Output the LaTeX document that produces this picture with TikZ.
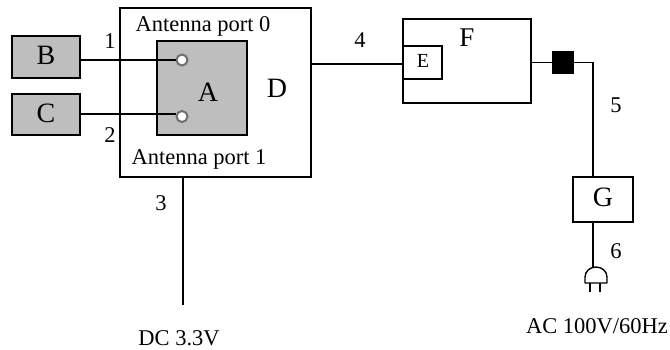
\documentclass[tikz,border=0pt]{standalone}
\usepackage{fontspec}
\setmainfont{Liberation Serif}
\usetikzlibrary{arrows.meta,positioning,calc}
\definecolor{BoxGray}{HTML}{BEBEBE}
\definecolor{PortGray}{HTML}{6E6E6E}
\tikzset{
  box/.style={draw=black,line width=1.3pt,inner sep=0pt,fill=white},
  grayBox/.style={box,fill=BoxGray},
  wire/.style={draw=black,line width=1.4pt},
  lbl/.style={inner sep=0pt,font=\fontsize{22.5}{24}\selectfont},
  bigLbl/.style={inner sep=0pt,font=\fontsize{28}{30}\selectfont},
  portDot/.style={circle,draw=PortGray,line width=2pt,fill=white,minimum size=11pt,inner sep=0pt},
}
\begin{document}
\begin{tikzpicture}[x=1pt,y=-1pt]
  \useasboundingbox (0,0) rectangle (670,349);
  % main boxes
  \node[box,minimum width=191pt,minimum height=169pt] (boxD) at (215.5,92.5) {};
  \node[grayBox,minimum width=90pt,minimum height=94pt] (boxA) at (202,88) {};
  \node[grayBox,minimum width=68pt,minimum height=42pt] (boxB) at (46,57) {};
  \node[grayBox,minimum width=68pt,minimum height=41pt] (boxC) at (46,114.5) {};
  \node[box,minimum width=128pt,minimum height=84pt] (boxF) at (467,61) {};
  \node[box,minimum width=39pt,minimum height=33pt] (boxE) at (422.5,62.5) {};
  \node[box,minimum width=60pt,minimum height=45pt] (boxG) at (603,199.5) {};
  \node[fill=black,minimum width=22pt,minimum height=23pt,inner sep=0pt] (filter) at (563,62.5) {};
  \node[portDot] (port0) at (182,60) {};
  \node[portDot] (port1) at (182,116.5) {};
  % free ends
  \coordinate (dcEnd) at (183,305);
  \coordinate (plugTop) at (593,267);
  \coordinate (bendG) at (593,62.5);
  % wires
  \draw[wire] (boxB.east |- port0) -- (port0);
  \draw[wire] (boxC.east |- 0,114) -- (port1.west |- 0,114);
  \draw[wire] (boxD.east |- 0,64) -- (boxE.west |- 0,64);
  \draw[wire] (boxF.east |- filter) -- (filter);
  \draw[wire] (filter) -- (bendG) -- (bendG |- boxG.north);
  \draw[wire] (bendG |- boxG.south) -- (plugTop);
  \draw[wire] (dcEnd |- boxD.south) -- (dcEnd);
  % plug
  \draw[wire,line join=round] (585,283) -- (585,277) arc[start angle=180,end angle=360,x radius=11,y radius=10] -- (607,283) -- cycle;
  \draw[wire] (590,283) -- (590,292) (600,283) -- (600,292);
  % labels
  \node[bigLbl] (txtB) at (46,55) {B};
  \node[bigLbl] (txtC) at (46,113) {C};
  \node[bigLbl] (txtA) at (208,92) {A};
  \node[bigLbl] (txtD) at (277,88) {D};
  \node[lbl,font=\fontsize{27}{29}\selectfont] (txtF) at (467,38) {F};
  \node[lbl,font=\fontsize{20}{22}\selectfont] (txtE) at (423,61) {E};
  \node[bigLbl] (txtG) at (603,197) {G};
  \node[lbl] (port0Txt) at (203,26) {Antenna port 0};
  \node[lbl] (port1Txt) at (199,159) {Antenna port 1};
  \node[lbl] (num1) at (110,41) {1};
  \node[lbl] (num2) at (110,135) {2};
  \node[lbl] (num3) at (161,203) {3};
  \node[lbl] (num4) at (360,40) {4};
  \node[lbl] (num5) at (616,105) {5};
  \node[lbl] (num6) at (616,251) {6};
  \node[lbl] (dcTxt) at (179,338) {DC 3.3V};
  \node[lbl] (acTxt) at (597,326) {AC 100V/60Hz};
\end{tikzpicture}
\end{document}
